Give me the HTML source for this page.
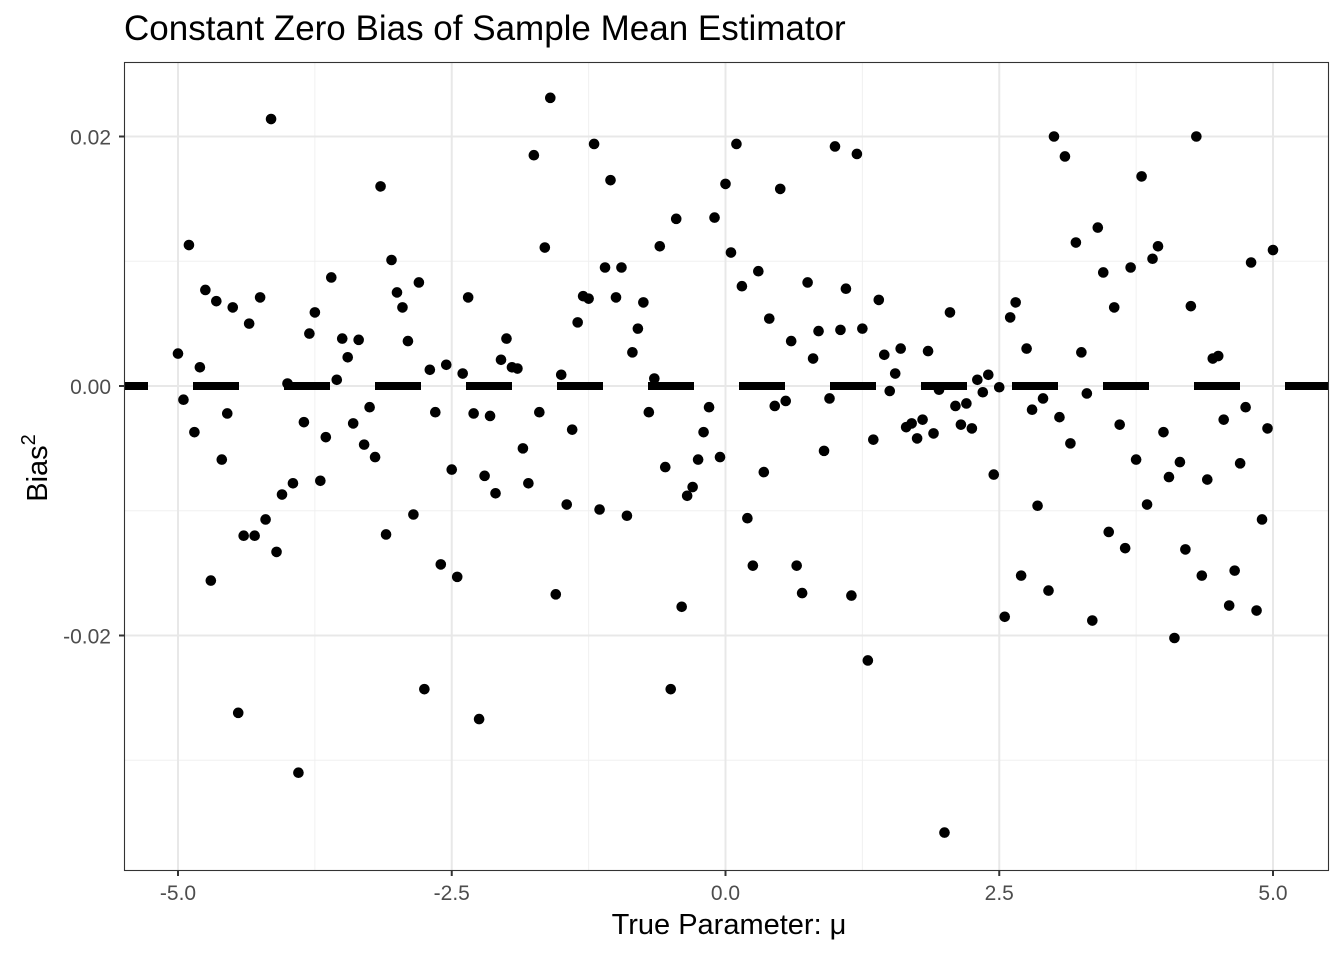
<!DOCTYPE html>
<html><head><meta charset="utf-8"><style>
html,body{margin:0;padding:0;background:#fff;}
svg{display:block;font-family:"Liberation Sans",Arial,sans-serif;}
</style></head><body>
<svg id="chart" width="1344" height="960" viewBox="0 0 1344 960">
<defs><clipPath id="panelclip"><rect x="124.5" y="62.5" width="1204" height="808"/></clipPath></defs>
<rect x="0" y="0" width="1344" height="960" fill="#fff"/>
<text x="124" y="40" font-size="35" fill="#000">Constant Zero Bias of Sample Mean Estimator</text>
<g id="grid"></g>
<g id="marks" clip-path="url(#panelclip)"></g>
<rect x="124.5" y="62.5" width="1204" height="808" fill="none" stroke="#333" stroke-width="1.1"/>
<g id="axes"></g>
<text x="729" y="934" font-size="29" text-anchor="middle" fill="#000">True Parameter: μ</text>
<text transform="translate(47,468) rotate(-90)" font-size="29" text-anchor="middle" fill="#000">Bias<tspan font-size="20" dy="-12">2</tspan></text>
</svg>
<script>
const xStart = -5;
const xStep = 0.05;
const biasValues = [2.6,-1.1,11.3,-3.7,1.5,7.7,-15.6,6.8,-5.9,-2.2,6.3,-26.2,-12.0,5.0,-12.0,7.1,-10.7,21.4,-13.3,-8.7,
0.2,-7.8,-31.0,-2.9,4.2,5.9,-7.6,-4.1,8.7,0.5,3.8,2.3,-3.0,3.7,-4.7,-1.7,-5.7,16.0,-11.9,10.1,
7.5,6.3,3.6,-10.3,8.3,-24.3,1.3,-2.1,-14.3,1.7,-6.7,-15.3,1.0,7.1,-2.2,-26.7,-7.2,-2.4,-8.6,2.1,
3.8,1.5,1.4,-5.0,-7.8,18.5,-2.1,11.1,23.1,-16.7,0.9,-9.5,-3.5,5.1,7.2,7.0,19.4,-9.9,9.5,16.5,
7.1,9.5,-10.4,2.7,4.6,6.7,-2.1,0.6,11.2,-6.5,-24.3,13.4,-17.7,-8.8,-8.1,-5.9,-3.7,-1.7,13.5,-5.7,
16.2,10.7,19.4,8.0,-10.6,-14.4,9.2,-6.9,5.4,-1.6,15.8,-1.2,3.6,-14.4,-16.6,8.3,2.2,4.4,-5.2,-1.0,
19.2,4.5,7.8,-16.8,18.6,4.6,-22.0,-4.3,6.9,2.5,-0.4,1.0,3.0,-3.3,-3.0,-4.2,-2.7,2.8,-3.8,-0.3,
-35.8,5.9,-1.6,-3.1,-1.4,-3.4,0.5,-0.5,0.9,-7.1,-0.1,-18.5,5.5,6.7,-15.2,3.0,-1.9,-9.6,-1.0,-16.4,
20.0,-2.5,18.4,-4.6,11.5,2.7,-0.6,-18.8,12.7,9.1,-11.7,6.3,-3.1,-13.0,9.5,-5.9,16.8,-9.5,10.2,11.2,
-3.7,-7.3,-20.2,-6.1,-13.1,6.4,20.0,-15.2,-7.5,2.2,2.4,-2.7,-17.6,-14.8,-6.2,-1.7,9.9,-18.0,-10.7,-3.4,10.9];
const valueScale = 0.001;
const xMajorTicks = [-5, -2.5, 0, 2.5, 5];
const xTickLabels = ["-5.0", "-2.5", "0.0", "2.5", "5.0"];
const xMinorTicks = [-3.75, -1.25, 1.25, 3.75];
const yMajorTicks = [0.02, 0, -0.02];
const yTickLabels = ["0.02", "0.00", "-0.02"];
const yMinorTicks = [0.01, -0.01, -0.03];
const refLineY = 0;

const NS = "http://www.w3.org/2000/svg";
function xScale(v){ return 178 + (v + 5) * 109.5; }
function yScale(v){ return 386 - v * 12475; }
function mk(tag, attrs){ const e = document.createElementNS(NS, tag); for (const k in attrs) e.setAttribute(k, attrs[k]); return e; }

const grid = document.getElementById('grid');
const marks = document.getElementById('marks');
const axes = document.getElementById('axes');

xMinorTicks.forEach(v => {
  const l = mk('line', {x1: xScale(v), x2: xScale(v), y1: 62.5, y2: 870.5, stroke: '#f0f0f0', 'stroke-width': 1});
  
  
  grid.appendChild(l);
});
yMinorTicks.forEach(v => {
  const l = mk('line', {x1: 124.5, x2: 1328.5, y1: yScale(v), y2: yScale(v), stroke: '#f0f0f0', 'stroke-width': 1});
  
  
  grid.appendChild(l);
});
xMajorTicks.forEach((v, i) => {
  const l = mk('line', {x1: xScale(v), x2: xScale(v), y1: 62.5, y2: 870.5, stroke: '#e8e8e8', 'stroke-width': 2});
  
  
  grid.appendChild(l);
  const t = mk('line', {x1: xScale(v), x2: xScale(v), y1: 870.5, y2: 876, stroke: '#333', 'stroke-width': 2});
  
  
  axes.appendChild(t);
  const tx = mk('text', {x: xScale(v), y: 900, 'font-size': 21, 'text-anchor': 'middle', fill: '#4d4d4d'});
  tx.textContent = xTickLabels[i];
  
  
  axes.appendChild(tx);
});
yMajorTicks.forEach((v, i) => {
  const l = mk('line', {x1: 124.5, x2: 1328.5, y1: yScale(v), y2: yScale(v), stroke: '#e8e8e8', 'stroke-width': 2});
  
  
  grid.appendChild(l);
  const t = mk('line', {x1: 119, x2: 124.5, y1: yScale(v), y2: yScale(v), stroke: '#333', 'stroke-width': 2});
  
  
  axes.appendChild(t);
  const tx = mk('text', {x: 111, y: yScale(v) + 8, 'font-size': 21, 'text-anchor': 'end', fill: '#4d4d4d'});
  tx.textContent = yTickLabels[i];
  
  
  axes.appendChild(tx);
});

const ref = mk('line', {x1: 102, x2: 1340, y1: yScale(refLineY), y2: yScale(refLineY), stroke: '#000', 'stroke-width': 8, 'stroke-dasharray': '46 45'});


marks.appendChild(ref);

biasValues.forEach((b, i) => {
  const xv = xStart + i * xStep;
  const c = mk('circle', {cx: xScale(xv), cy: yScale(b * valueScale), r: 5.3, fill: '#000'});
  
  
  marks.appendChild(c);
});
</script>
</body></html>
